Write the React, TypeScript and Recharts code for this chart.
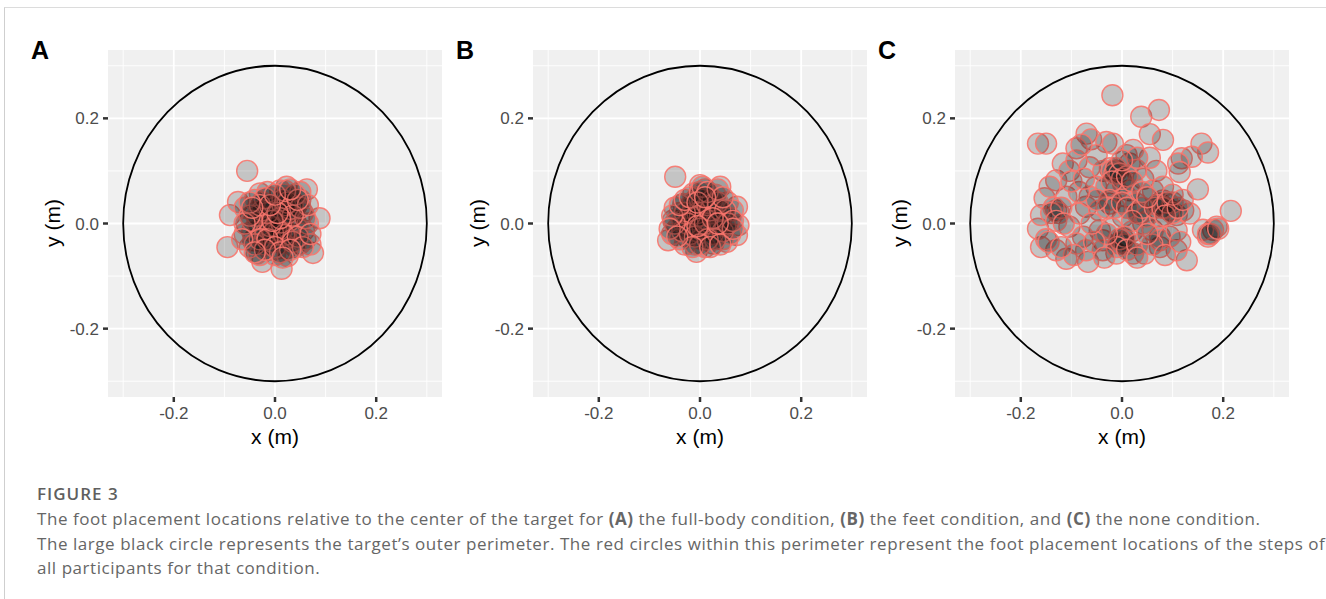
import React from 'react';
import {
  ScatterChart,
  Scatter,
  XAxis,
  YAxis,
  CartesianGrid,
  ReferenceArea,
} from 'recharts';

// Axis setup shared by the three panels
const AXIS_TICKS = [-0.2, 0, 0.2];
const MINOR_GRID = [-0.3, -0.1, 0.1, 0.3];
const DOMAIN: [number, number] = [-0.33, 0.33];
const TARGET_RADIUS = 0.3;

// Foot placement (x, y) in metres
const FULL_BODY: [number, number][] = [
  [-0.055, 0.1], [0.063, 0.065], [0.088, 0.01], [-0.089, 0.016], [-0.073, 0.041],
  [-0.094, -0.045], [0.013, -0.086], [0.075, -0.056], [-0.025, -0.073], [0.023, 0.07],
  [-0.03, 0.057], [0.01, 0.063], [0.05, -0.038], [0.057, -0.013], [-0.043, -0.032],
  [-0.056, 0.0], [-0.003, -0.013], [-0.016, 0.032], [0.036, 0.025], [0.043, 0.035],
  [-0.01, -0.05], [0.023, -0.047], [-0.036, -0.057], [0.0, 0.0], [0.005, -0.02],
  [-0.008, -0.025], [0.015, -0.005], [0.02, 0.015], [-0.02, 0.01], [-0.03, -0.01],
  [0.03, -0.02], [0.04, 0.005], [-0.04, 0.02], [0.01, 0.04], [-0.01, 0.05],
  [0.03, 0.05], [0.05, 0.045], [-0.045, -0.015], [-0.02, -0.04], [0.015, -0.035],
  [0.04, -0.045], [-0.03, -0.06], [0.0, -0.06], [0.025, -0.062], [0.055, 0.02],
  [-0.06, 0.03], [-0.05, -0.045], [0.06, -0.03], [0.008, 0.025], [-0.012, 0.005],
  [0.022, -0.028], [-0.025, 0.04], [0.045, -0.01], [-0.005, 0.015], [0.028, 0.005],
  [-0.035, 0.0], [0.012, -0.015], [-0.018, -0.018], [0.0, 0.03], [0.035, 0.035],
  [-0.04, 0.045], [0.018, 0.055], [-0.005, -0.035], [0.065, 0.0], [0.05, 0.06],
  [-0.015, 0.06], [0.07, -0.04], [-0.06, -0.02],
  [0.002, -0.008], [0.008, -0.012], [-0.004, -0.018], [0.012, 0.002], [-0.01, -0.005],
  [0.018, -0.022], [0.025, 0.02], [0.03, 0.028], [0.02, 0.035], [0.015, 0.045],
  [0.025, 0.04], [-0.015, 0.02], [-0.025, 0.025], [-0.035, 0.015], [-0.045, 0.005],
  [-0.05, 0.015], [-0.04, -0.04], [-0.03, -0.03], [-0.015, -0.03], [0.0, -0.045],
  [0.01, -0.055], [0.035, -0.035], [0.045, -0.025], [0.055, -0.045], [0.06, 0.01],
  [0.05, 0.03], [0.04, 0.055], [0.02, 0.062], [-0.02, 0.048], [-0.03, 0.035],
  [-0.05, 0.04], [-0.06, 0.0], [-0.065, -0.03], [0.065, 0.035], [0.07, -0.02],
  [0.035, 0.015], [0.01, 0.01], [-0.005, 0.005], [0.005, 0.02], [-0.02, -0.05],
  [0.03, -0.05], [0.045, 0.045], [-0.01, 0.035], [0.015, -0.065], [-0.04, -0.055],
  [0.0, 0.055], [0.03, 0.065], [-0.045, 0.03],
];

const FEET: [number, number][] = [
  [-0.049, 0.089], [0.0, 0.073], [0.04, 0.07], [0.073, 0.032], [0.076, -0.003],
  [0.073, -0.022], [-0.063, -0.032], [-0.007, -0.054], [0.053, -0.035], [-0.053, 0.006],
  [-0.012, 0.017], [0.02, 0.044], [-0.013, 0.057], [-0.033, 0.037], [0.013, -0.012],
  [-0.026, -0.025], [0.026, -0.038], [0.01, 0.065], [-0.005, 0.05], [0.03, 0.03],
  [0.045, 0.015], [0.055, 0.04], [-0.04, 0.02], [-0.045, -0.01], [-0.03, -0.04],
  [-0.015, 0.0], [-0.01, 0.01], [0.0, 0.005], [0.005, -0.03], [0.02, 0.0],
  [0.035, -0.02], [0.045, -0.03], [0.06, 0.01], [0.06, -0.02], [-0.055, -0.02],
  [-0.02, 0.03], [0.0, 0.03], [-0.035, 0.005], [0.015, 0.02], [0.03, 0.055],
  [-0.025, -0.01], [0.01, -0.045], [-0.01, -0.04], [0.04, 0.0], [-0.05, 0.03],
  [0.025, -0.02], [0.05, -0.005], [-0.015, 0.04], [0.005, 0.045], [-0.04, -0.03],
  [0.03, 0.01], [-0.005, -0.015], [0.065, 0.025],
  [-0.008, 0.012], [-0.012, 0.008], [-0.005, 0.02], [0.0, 0.015], [-0.02, 0.015],
  [-0.025, 0.0], [-0.03, 0.02], [-0.035, -0.015], [-0.02, -0.02], [-0.01, -0.025],
  [0.0, -0.01], [0.01, 0.0], [0.015, 0.035], [0.02, 0.025], [0.025, 0.045],
  [0.035, 0.04], [0.04, 0.025], [0.05, 0.025], [0.045, -0.015], [0.03, -0.03],
  [0.015, -0.03], [0.0, -0.04], [-0.015, -0.045], [0.02, -0.045], [0.04, -0.04],
  [0.055, 0.0], [0.065, 0.005], [0.065, -0.01], [-0.05, 0.0], [-0.055, 0.015],
  [-0.06, -0.01], [-0.045, -0.025], [-0.04, 0.035], [-0.03, 0.045], [-0.02, 0.05],
  [0.0, 0.06], [0.005, 0.07], [0.015, 0.06], [0.035, 0.065], [0.045, 0.05],
  [-0.005, 0.04], [0.01, 0.05], [0.025, 0.01], [0.035, 0.0], [-0.005, -0.005],
];

const NONE: [number, number][] = [
  [-0.019, 0.244], [0.038, 0.203], [0.073, 0.216], [0.055, 0.17], [0.081, 0.159],
  [-0.166, 0.152], [-0.15, 0.152], [-0.07, 0.171], [-0.061, 0.16], [-0.031, 0.155],
  [-0.018, 0.152], [-0.09, 0.143], [0.157, 0.152], [0.17, 0.135], [0.118, 0.124],
  [0.138, 0.127], [0.111, 0.114], [0.114, 0.098], [0.15, 0.065], [0.215, 0.024],
  [0.187, -0.006], [0.18, -0.012], [0.17, -0.025], [0.16, -0.012], [0.128, -0.07],
  [0.108, -0.051], [0.075, -0.045], [0.075, -0.025], [0.045, -0.057], [0.022, -0.057],
  [-0.011, -0.057], [-0.067, -0.073], [-0.11, -0.067], [-0.13, -0.051], [-0.16, -0.045],
  [-0.166, -0.01], [-0.16, 0.016], [-0.153, 0.048], [-0.13, 0.082], [-0.117, 0.114],
  [-0.104, 0.1], [-0.09, 0.12], [-0.064, 0.107], [-0.024, 0.105], [-0.011, 0.1],
  [-0.037, 0.1], [0.015, 0.114], [0.042, 0.085], [0.068, 0.1], [0.055, 0.125],
  [0.009, 0.13], [0.022, 0.14], [-0.024, 0.038], [0.002, 0.013], [0.035, 0.019],
  [0.075, 0.038], [0.081, 0.044], [0.094, 0.025], [0.108, 0.016], [-0.071, 0.032],
  [-0.13, 0.025], [-0.104, -0.006], [-0.038, -0.032], [0.002, -0.029], [-0.005, -0.038],
  [0.061, -0.013], [-0.044, -0.013], [-0.077, -0.025], [-0.071, -0.051], [-0.038, -0.051],
  [0.015, 0.063], [-0.011, 0.063], [0.009, 0.051], [0.028, 0.038], [0.042, 0.0],
  [0.048, 0.013], [-0.084, 0.019], [-0.11, 0.051], [-0.143, 0.07], [0.121, 0.025],
  [0.134, 0.019], [-0.09, -0.038], [0.075, -0.032], [0.094, -0.025], [0.108, -0.013],
  [0.002, 0.076], [0.028, 0.102], [-0.051, 0.07], [-0.064, 0.051], [-0.031, 0.07],
  [0.061, 0.063], [0.081, 0.07], [0.075, 0.013], [-0.02, 0.1], [-0.015, 0.095],
  [0.07, 0.035], [0.085, 0.03], [-0.125, 0.02], [-0.135, 0.03], [0.0, -0.035],
  [0.005, -0.04], [-0.045, 0.025], [0.02, -0.015], [-0.02, -0.01], [0.1, 0.04],
  [-0.15, -0.03], [-0.095, -0.06], [0.17, -0.02],
  [-0.012, 0.105], [-0.005, 0.095], [0.0, 0.085], [-0.02, 0.08], [0.01, 0.09],
  [0.02, 0.08], [-0.025, 0.045], [-0.03, 0.03], [-0.015, 0.03], [0.0, 0.04],
  [0.01, 0.03], [0.03, 0.02], [0.04, 0.03], [0.02, 0.005], [0.065, 0.03],
  [0.08, 0.03], [0.09, 0.04], [0.1, 0.02], [0.085, 0.015], [0.11, 0.03],
  [-0.14, 0.02], [-0.12, 0.03], [-0.13, 0.005], [-0.115, 0.0], [-0.145, -0.035],
  [-0.12, -0.045], [-0.005, -0.03], [0.005, -0.025], [-0.01, -0.045], [0.01, -0.05],
  [-0.03, -0.02], [0.03, -0.04], [0.06, -0.04], [0.05, -0.02], [-0.055, -0.035],
  [-0.06, 0.0], [-0.05, 0.045], [-0.085, 0.06], [-0.1, 0.08], [-0.075, 0.085],
  [0.04, 0.06], [0.05, 0.05], [0.03, 0.125], [0.0, 0.12], [-0.05, 0.13],
  [-0.08, 0.15], [0.1, 0.055], [0.12, 0.045], [-0.035, -0.065], [0.03, -0.065],
  [0.085, -0.06], [0.115, -0.035], [0.175, -0.02], [0.19, -0.01],
];

const PANEL_LETTERS = ['A', 'B', 'C'];
const X_TITLE = 'x (m)';
const Y_TITLE = 'y (m)';

const FONT = '"Liberation Sans", Arial, Helvetica, sans-serif';

const fmt = (v: number) => v.toFixed(1);

function Dot(props: any) {
  return (
    <circle
      cx={props.cx}
      cy={props.cy}
      r={10.5}
      fill="#000"
      fillOpacity={0.18}
      stroke="#F8766D"
      strokeOpacity={0.9}
      strokeWidth={1.4}
    />
  );
}

function TargetCircle(props: any) {
  const { x, y, width, height } = props;
  return (
    <ellipse
      cx={x + width / 2}
      cy={y + height / 2}
      rx={width / 2}
      ry={height / 2}
      fill="none"
      stroke="#000"
      strokeWidth={1.8}
    />
  );
}

// tick labels drawn by hand so the font size sticks
function XTick(props: any) {
  const { x, y, payload } = props;
  return (
    <text x={x} y={y} dy="0.75em" textAnchor="middle" fill="#4D4D4D" fontSize={17} fontFamily={FONT}>
      {fmt(payload.value)}
    </text>
  );
}

function YTick(props: any) {
  const { x, y, payload } = props;
  return (
    <text x={x} y={y} dy="0.36em" textAnchor="end" fill="#4D4D4D" fontSize={17} fontFamily={FONT}>
      {fmt(payload.value)}
    </text>
  );
}

function Panel({ points, left, letter }: { points: [number, number][]; left: number; letter: string }) {
  const data = points.map(([x, y]) => ({ x, y }));
  const plotLeft = left + 68;
  return (
    <>
      <div
        style={{
          position: 'absolute',
          left: left - 9,
          top: 36,
          fontFamily: FONT,
          fontWeight: 700,
          fontSize: 25,
          lineHeight: '28px',
          color: '#000',
        }}
      >
        {letter}
      </div>
      <div style={{ position: 'absolute', left, top: 50 }}>
        <ScatterChart width={402} height={400} margin={{ top: 0, right: 0, bottom: 0, left: 0 }}>
          <CartesianGrid
            fill="#F0F0F0"
            stroke="#fff"
            strokeWidth={0.9}
            horizontalValues={MINOR_GRID}
            verticalValues={MINOR_GRID}
          />
          <CartesianGrid
            stroke="#fff"
            strokeWidth={1.8}
            horizontalValues={AXIS_TICKS}
            verticalValues={AXIS_TICKS}
          />
          <XAxis
            type="number"
            dataKey="x"
            domain={DOMAIN}
            allowDataOverflow
            ticks={AXIS_TICKS}
            height={53}
            axisLine={false}
            tickSize={5}
            tickMargin={4}
            tickLine={{ stroke: '#333', strokeWidth: 2.5 }}
            tick={XTick}
          />
          <YAxis
            type="number"
            dataKey="y"
            domain={DOMAIN}
            allowDataOverflow
            ticks={AXIS_TICKS}
            width={68}
            axisLine={false}
            tickSize={5}
            tickMargin={4}
            tickLine={{ stroke: '#333', strokeWidth: 2.5 }}
            tick={YTick}
          />
          <ReferenceArea
            x1={-TARGET_RADIUS}
            x2={TARGET_RADIUS}
            y1={-TARGET_RADIUS}
            y2={TARGET_RADIUS}
            shape={TargetCircle}
          />
          <Scatter data={data} shape={Dot} isAnimationActive={false} />
        </ScatterChart>
      </div>
      <div
        style={{
          position: 'absolute',
          left: plotLeft,
          width: 334,
          top: 424,
          textAlign: 'center',
          fontFamily: FONT,
          fontSize: 21,
          lineHeight: '26px',
          color: '#000',
        }}
      >
        {X_TITLE}
      </div>
      <div
        style={{
          position: 'absolute',
          left: left + 13 - 60,
          top: 223 - 13,
          width: 120,
          height: 26,
          lineHeight: '26px',
          textAlign: 'center',
          transform: 'rotate(-90deg)',
          fontFamily: FONT,
          fontSize: 21,
          color: '#000',
        }}
      >
        {Y_TITLE}
      </div>
    </>
  );
}

const capStyle: React.CSSProperties = {
  position: 'absolute',
  left: 37,
  whiteSpace: 'nowrap',
  fontFamily: '"Open Sans", "Noto Sans", sans-serif',
  fontSize: 17,
  letterSpacing: 0.55,
  color: '#666',
};

export default function App() {
  return (
    <div style={{ position: 'absolute', left: 0, top: 0, width: 1326, height: 599, background: '#fff', overflow: 'hidden' }}>
      <div
        style={{
          position: 'absolute',
          left: 4,
          top: 7,
          width: 1330,
          height: 600,
          borderTop: '1px solid #dcdcdc',
          borderLeft: '1px solid #cfcfcf',
        }}
      />
      <Panel points={FULL_BODY} left={40} letter={PANEL_LETTERS[0]} />
      <Panel points={FEET} left={465} letter={PANEL_LETTERS[1]} />
      <Panel points={NONE} left={887} letter={PANEL_LETTERS[2]} />
      <div style={{ ...capStyle, top: 482, fontSize: 17, letterSpacing: 1, fontWeight: 600, color: '#5f5f5f' }}>FIGURE 3</div>
      <div style={{ ...capStyle, top: 507 }}>
        The foot placement locations relative to the center of the target for <b>(A)</b> the full-body condition, <b>(B)</b> the feet condition, and <b>(C)</b> the none condition.
      </div>
      <div style={{ ...capStyle, top: 532 }}>
        The large black circle represents the target’s outer perimeter. The red circles within this perimeter represent the foot placement locations of the steps of
      </div>
      <div style={{ ...capStyle, top: 556 }}>all participants for that condition.</div>
    </div>
  );
}
